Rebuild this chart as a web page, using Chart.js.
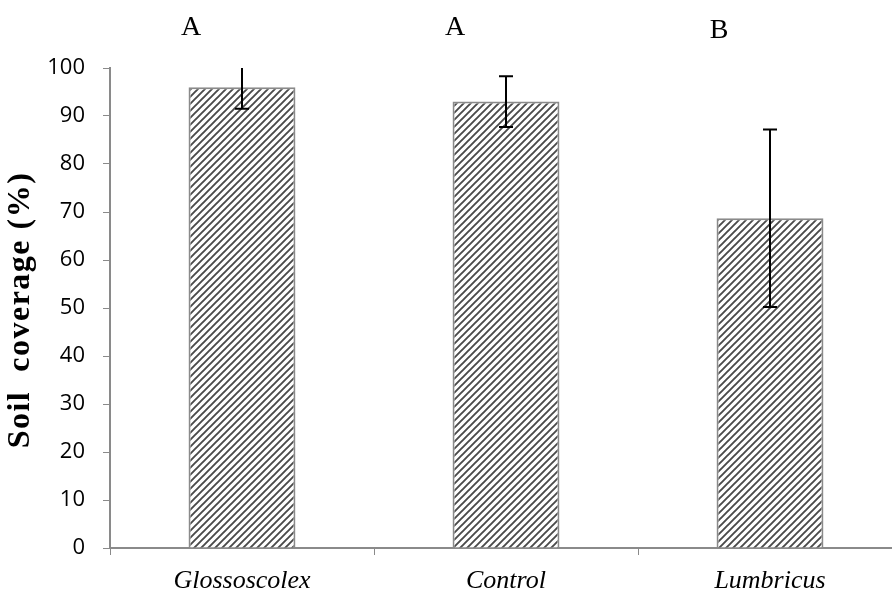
<!DOCTYPE html>
<html>
<head>
<meta charset="utf-8">
<script src="https://cdn.jsdelivr.net/npm/chart.js@4.4.1/dist/chart.umd.min.js"></script>
<style>
  html, body { margin: 0; padding: 0; background: #ffffff; overflow: hidden; }
  #wrap { width: 902px; height: 594px; position: relative; }
</style>
</head>
<body>
<div id="wrap"><canvas id="chart"></canvas></div>
<script>
// Soil coverage by treatment, with standard deviation and significance groups
const categories = ['Glossoscolex', 'Control', 'Lumbricus'];
const coverage = [96.0, 93.0, 68.7];
const errors = [4.5, 5.3, 18.5];
const groups = ['A', 'A', 'B'];
const yTicks = [0, 10, 20, 30, 40, 50, 60, 70, 80, 90, 100];
const yTitle = 'Soil  coverage (%)';

// Diagonal hatch fill for the bars
function makeHatch() {
  const size = 7;
  const c = document.createElement('canvas');
  c.width = size; c.height = size;
  const g = c.getContext('2d');
  g.fillStyle = '#ffffff';
  g.fillRect(0, 0, size, size);
  g.strokeStyle = '#4a4a4a';
  g.lineWidth = 1.9;
  g.beginPath();
  g.moveTo(-1, size + 1); g.lineTo(size + 1, -1);
  g.moveTo(-2, 2); g.lineTo(2, -2);
  g.moveTo(size - 2, size + 2); g.lineTo(size + 2, size - 2);
  g.stroke();
  return g.createPattern(c, 'repeat');
}

const ctx = document.getElementById('chart').getContext('2d');
const hatch = makeHatch();

// Error bars drawn from the dataset values, clipped to the plot area
const errorBars = {
  id: 'errorBars',
  afterDatasetsDraw(chart) {
    const { ctx, chartArea, scales: { y } } = chart;
    const meta = chart.getDatasetMeta(0);
    ctx.save();
    ctx.beginPath();
    ctx.rect(chartArea.left, chartArea.top, chartArea.right - chartArea.left, chartArea.bottom - chartArea.top);
    ctx.clip();
    ctx.strokeStyle = '#000000';
    ctx.lineWidth = 2;
    meta.data.forEach((bar, i) => {
      const x = Math.round(bar.x);
      const hi = y.getPixelForValue(coverage[i] + errors[i]);
      const lo = y.getPixelForValue(coverage[i] - errors[i]);
      ctx.beginPath();
      ctx.moveTo(x, hi); ctx.lineTo(x, lo);
      ctx.moveTo(x - 7, hi); ctx.lineTo(x + 7, hi);
      ctx.moveTo(x - 7, lo); ctx.lineTo(x + 7, lo);
      ctx.stroke();
    });
    ctx.restore();
  }
};

// Significance letters above each treatment and the rotated y-axis title
const annotations = {
  id: 'annotations',
  afterDraw(chart) {
    const { ctx, chartArea } = chart;
    const meta = chart.getDatasetMeta(0);
    ctx.save();
    ctx.fillStyle = '#000000';
    ctx.font = '28px "Liberation Serif", "Times New Roman", serif';
    ctx.textAlign = 'center';
    ctx.textBaseline = 'alphabetic';
    meta.data.forEach((bar, i) => {
      ctx.fillText(groups[i], bar.x - 51, 35 + (groups[i] === 'B' ? 3 : 0));
    });
    ctx.restore();

    ctx.save();
    ctx.fillStyle = '#000000';
    ctx.font = 'bold 32px "Liberation Serif", "Times New Roman", serif';
    ctx.letterSpacing = '1.5px';
    ctx.textAlign = 'center';
    ctx.textBaseline = 'middle';
    ctx.translate(21, (chartArea.top + chartArea.bottom) / 2 + 2);
    ctx.rotate(-Math.PI / 2);
    ctx.fillText(yTitle, 0, 0);
    ctx.restore();
  }
};

new Chart(ctx, {
  type: 'bar',
  data: {
    labels: categories,
    datasets: [{
      data: coverage,
      backgroundColor: hatch,
      borderColor: '#8a8a8a',
      borderWidth: 2,
      borderSkipped: 'bottom',
      categoryPercentage: 1.0,
      barPercentage: 0.405
    }]
  },
  options: {
    responsive: true,
    maintainAspectRatio: false,
    animation: false,
    layout: { padding: { top: 68, right: 0, bottom: 0, left: 0 } },
    plugins: {
      legend: { display: false },
      tooltip: { enabled: false }
    },
    scales: {
      x: {
        grid: {
          display: true,
          drawOnChartArea: false,
          drawTicks: true,
          tickLength: 7,
          offset: true,
          color: '#8a8a8a',
          lineWidth: 1
        },
        border: { display: true, color: '#8a8a8a', width: 2 },
        ticks: {
          color: '#000000',
          padding: 11,
          font: { family: '"Liberation Serif", "Times New Roman", serif', size: 26, style: 'italic' }
        },
        afterFit(scale) { scale.height = 46; }
      },
      y: {
        min: 0,
        max: 100,
        afterBuildTicks(scale) { scale.ticks = yTicks.map(v => ({ value: v })); },
        grid: {
          display: true,
          drawOnChartArea: false,
          drawTicks: true,
          tickLength: 7,
          color: '#8a8a8a'
        },
        border: { display: true, color: '#8a8a8a', width: 2 },
        ticks: {
          color: '#000000',
          padding: 18,
          font: { family: '"Open Sans", sans-serif', size: 22 }
        },
        title: { display: false },
        afterFit(scale) { scale.width = 110; }
      }
    }
  },
  plugins: [errorBars, annotations]
});
</script>
</body>
</html>
